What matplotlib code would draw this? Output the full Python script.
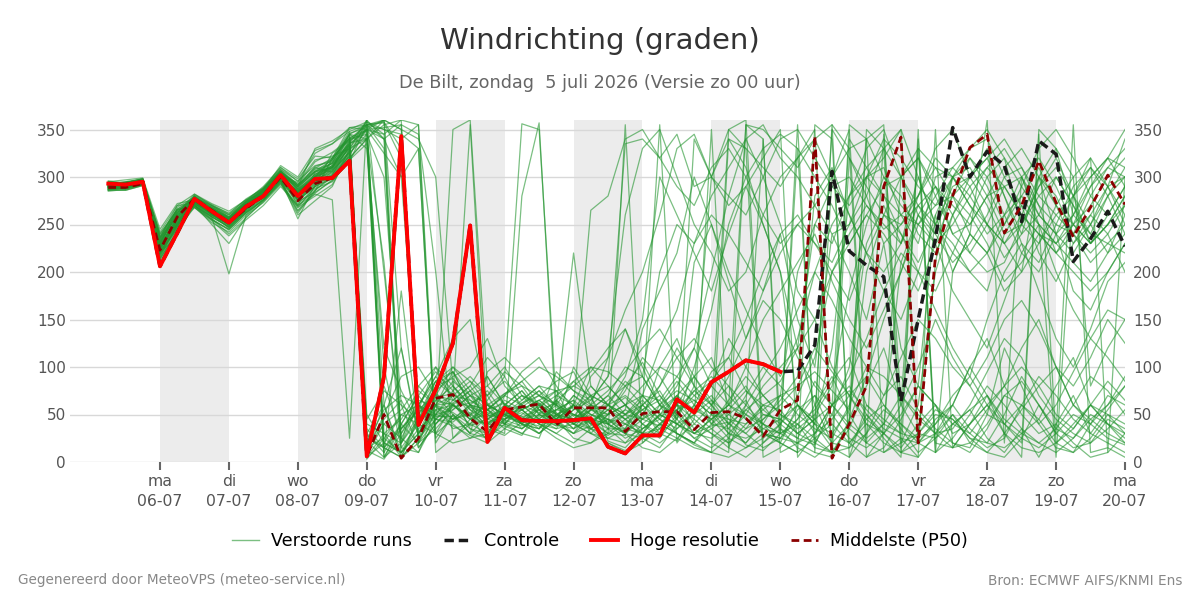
import matplotlib
matplotlib.use("Agg")
import matplotlib.pyplot as plt
from matplotlib.lines import Line2D
import pandas as pd

# ---------------- data ----------------
times = pd.date_range("2026-07-05 06:00", periods=60, freq="6h")

tick_days = pd.date_range("2026-07-06", "2026-07-20", freq="D")
day_names = ["ma", "di", "wo", "do", "vr", "za", "zo",
             "ma", "di", "wo", "do", "vr", "za", "zo", "ma"]
tick_labels = [f"{n}\n{d.strftime('%d-%m')}" for n, d in zip(day_names, tick_days)]

shade_starts = ["2026-07-06", "2026-07-08", "2026-07-10", "2026-07-12",
                "2026-07-14", "2026-07-16", "2026-07-18"]

hoge_resolutie = [293, 292, 295, 206, 241, 277, 264, 252, 269, 280,
                  302, 280, 298, 299, 317, 6, 90, 343, 39, 76,
                  125, 249, 21, 57, 44, 43, 43, 44, 46, 16,
                  9, 28, 28, 66, 52, 84, 95, 107, 103, 95]

controle = [293, 292, 295, 206, 241, 277, 264, 252, 269, 280,
            302, 280, 298, 299, 317, 6, 90, 343, 39, 76,
            125, 249, 21, 57, 44, 43, 43, 44, 46, 16,
            9, 28, 28, 66, 52, 84, 95, 107, 103, 95,
            96, 123, 306, 222, 207, 195, 64, 150, 235, 352,
            300, 327, 312, 253, 338, 324, 211, 235, 264, 227]

middelste = [289, 289, 293, 223, 258, 277, 265, 252, 267, 280,
             300, 275, 293, 299, 317, 6, 50, 4, 25, 67,
             71, 46, 32, 55, 58, 61, 39, 57, 57, 57,
             32, 51, 53, 53, 34, 52, 53, 46, 27, 55,
             65, 343, 4, 40, 80, 290, 342, 20, 216, 280,
             331, 345, 241, 270, 317, 273, 237, 268, 302, 271]

m01 = [294, 290, 297, 232, 260, 272, 258, 248, 265, 282,
       304, 288, 300, 310, 335, 350, 20, 10, 30, 60,
       85, 70, 45, 60, 55, 40, 65, 50, 45, 35,
       20, 40, 55, 70, 40, 60, 80, 45, 30, 25,
       55, 70, 30, 20, 45, 60, 40, 25, 210, 300,
       320, 290, 250, 280, 310, 270, 230, 250, 290, 300]
m02 = [288, 289, 293, 218, 248, 278, 266, 255, 270, 278,
       298, 276, 290, 298, 318, 30, 60, 5, 25, 68,
       72, 55, 38, 52, 47, 55, 62, 48, 70, 22,
       15, 35, 48, 55, 30, 38, 42, 18, 12, 30,
       40, 15, 10, 35, 80, 120, 60, 30, 25, 40,
       55, 70, 45, 30, 20, 35, 60, 90, 75, 50]
m03 = [296, 293, 298, 240, 265, 270, 256, 244, 262, 276,
       296, 265, 285, 320, 340, 355, 358, 330, 20, 45,
       65, 80, 55, 40, 62, 70, 85, 95, 60, 50,
       75, 110, 90, 60, 55, 80, 130, 100, 70, 85,
       120, 250, 290, 300, 270, 245, 260, 230, 300, 310,
       290, 250, 215, 240, 300, 330, 260, 240, 280, 310]
m04 = [285, 287, 292, 226, 252, 280, 268, 258, 272, 285,
       306, 292, 310, 305, 328, 8, 40, 25, 60, 90,
       70, 35, 30, 60, 75, 50, 40, 55, 80, 60,
       45, 25, 15, 40, 50, 35, 20, 40, 60, 55,
       30, 45, 350, 320, 280, 230, 250, 270, 240, 300,
       330, 340, 300, 270, 250, 230, 260, 300, 320, 290]
m05 = [291, 294, 296, 210, 240, 276, 260, 250, 266, 281,
       302, 270, 305, 315, 345, 340, 100, 15, 10, 55,
       60, 45, 50, 35, 28, 58, 45, 30, 38, 60,
       70, 55, 30, 22, 60, 95, 110, 75, 55, 40,
       25, 18, 60, 80, 50, 30, 15, 40, 60, 20,
       10, 35, 70, 60, 45, 80, 110, 60, 40, 25]
m06 = [289, 288, 294, 236, 258, 271, 250, 230, 258, 274,
       294, 260, 275, 290, 330, 360, 340, 355, 40, 80,
       95, 60, 35, 50, 65, 80, 58, 42, 90, 110,
       260, 330, 350, 300, 250, 220, 180, 200, 260, 300,
       320, 340, 300, 260, 220, 180, 150, 200, 260, 300,
       310, 280, 240, 250, 290, 320, 280, 230, 250, 270]
m07 = [293, 291, 295, 222, 256, 274, 265, 254, 270, 286,
       308, 296, 312, 316, 342, 12, 3, 30, 55, 72,
       60, 48, 22, 45, 52, 40, 35, 60, 42, 30,
       28, 60, 75, 45, 25, 15, 30, 50, 40, 20,
       60, 40, 15, 5, 30, 70, 90, 55, 35, 20,
       15, 50, 120, 80, 40, 60, 95, 130, 110, 85]
m08 = [287, 292, 294, 228, 250, 268, 254, 238, 255, 270,
       290, 270, 282, 276, 25, 360, 200, 35, 55, 48,
       48, 30, 25, 70, 95, 110, 80, 55, 65, 90,
       140, 100, 60, 45, 80, 300, 340, 310, 250, 200,
       120, 60, 20, 40, 300, 310, 260, 280, 330, 350,
       300, 320, 280, 230, 210, 250, 290, 310, 280, 240]
m09 = [292, 295, 297, 215, 246, 279, 269, 260, 274, 288,
       306, 287, 298, 304, 322, 45, 75, 60, 15, 40,
       58, 62, 70, 40, 35, 48, 55, 65, 50, 42,
       55, 45, 38, 60, 90, 65, 50, 35, 45, 60,
       80, 120, 95, 70, 90, 150, 200, 260, 240, 210,
       230, 260, 300, 310, 270, 220, 240, 280, 310, 330]
m10 = [295, 297, 299, 245, 272, 276, 262, 246, 266, 279,
       298, 256, 292, 325, 338, 355, 330, 20, 50, 85,
       100, 75, 40, 55, 70, 62, 48, 70, 58, 35,
       35, 70, 120, 160, 230, 280, 310, 340, 355, 320,
       300, 270, 240, 250, 280, 330, 350, 20, 30, 60,
       100, 130, 80, 50, 30, 40, 70, 30, 20, 10]
m11 = [290, 290, 293, 220, 238, 273, 263, 252, 271, 284,
       301, 283, 296, 300, 315, 5, 30, 45, 75, 60,
       52, 40, 55, 62, 45, 30, 50, 58, 40, 55,
       68, 50, 35, 55, 65, 50, 30, 25, 35, 45,
       30, 20, 50, 100, 230, 270, 230, 300, 250, 280,
       260, 300, 320, 250, 230, 260, 240, 210, 230, 250]
m12 = [286, 286, 291, 230, 262, 282, 272, 264, 276, 283,
       302, 294, 318, 322, 330, 340, 360, 120, 30, 60,
       45, 52, 35, 28, 42, 60, 75, 40, 30, 20,
       12, 25, 40, 30, 18, 10, 25, 55, 40, 30,
       20, 10, 5, 45, 90, 60, 35, 10, 25, 50,
       30, 15, 25, 60, 40, 15, 10, 40, 70, 60]
m13 = [294, 292, 296, 224, 254, 270, 258, 198, 260, 277,
       297, 275, 290, 306, 332, 50, 20, 10, 45, 80,
       88, 65, 52, 45, 58, 70, 52, 35, 48, 65,
       80, 105, 70, 45, 100, 160, 250, 300, 330, 345,
       330, 300, 270, 230, 260, 290, 300, 320, 280, 240,
       250, 280, 290, 260, 240, 230, 250, 270, 300, 320]
m14 = [291, 293, 295, 234, 264, 277, 261, 249, 269, 282,
       303, 279, 301, 312, 333, 35, 15, 40, 70, 95,
       75, 50, 60, 72, 80, 55, 40, 30, 55, 70,
       50, 30, 20, 35, 55, 70, 45, 30, 15, 25,
       45, 70, 50, 25, 15, 30, 60, 100, 150, 110,
       80, 50, 40, 60, 90, 70, 45, 30, 55, 80]
m15 = [288, 291, 294, 238, 266, 268, 252, 242, 260, 273,
       292, 268, 280, 292, 325, 345, 15, 5, 50, 75,
       90, 100, 130, 80, 60, 45, 38, 50, 42, 55,
       45, 60, 80, 120, 90, 60, 40, 55, 70, 50,
       35, 50, 80, 180, 250, 300, 280, 240, 220, 260,
       290, 310, 330, 300, 260, 240, 220, 250, 280, 300]
m16 = [290, 292, 296, 212, 244, 274, 267, 256, 273, 287,
       305, 290, 308, 314, 336, 358, 350, 345, 330, 25,
       50, 30, 48, 55, 40, 35, 50, 60, 35, 28,
       40, 55, 70, 50, 30, 45, 60, 80, 50, 45,
       60, 30, 45, 70, 40, 20, 10, 30, 55, 45,
       25, 20, 50, 90, 60, 30, 15, 20, 45, 35]
m17 = [293, 294, 298, 226, 258, 280, 264, 254, 268, 281,
       300, 282, 300, 308, 326, 20, 80, 30, 65, 58,
       45, 60, 75, 50, 40, 58, 70, 85, 68, 40,
       30, 45, 55, 80, 120, 200, 280, 340, 300, 250,
       180, 150, 200, 240, 270, 250, 230, 280, 320, 300,
       270, 240, 260, 300, 320, 290, 250, 230, 260, 290]
m18 = [286, 289, 292, 229, 253, 271, 259, 247, 264, 278,
       296, 272, 288, 295, 320, 340, 210, 15, 40, 65,
       60, 45, 40, 38, 30, 45, 60, 50, 40, 60,
       85, 70, 50, 40, 25, 35, 50, 65, 30, 20,
       10, 25, 40, 20, 5, 15, 45, 80, 60, 30,
       40, 60, 80, 120, 150, 100, 60, 40, 60, 90]
m19 = [292, 290, 297, 219, 249, 278, 270, 258, 275, 290,
       310, 298, 322, 320, 348, 10, 50, 90, 100, 70,
       65, 58, 42, 48, 62, 75, 60, 45, 55, 50,
       60, 80, 100, 90, 70, 85, 110, 150, 200, 240,
       260, 230, 210, 250, 300, 280, 240, 210, 250, 290,
       300, 270, 230, 200, 230, 270, 300, 320, 290, 250]
m20 = [289, 292, 295, 232, 261, 273, 260, 251, 270, 279,
       301, 280, 295, 302, 322, 40, 30, 20, 80, 60,
       35, 40, 65, 90, 356, 350, 60, 40, 35, 45,
       30, 25, 40, 60, 45, 30, 20, 35, 60, 70,
       50, 35, 25, 60, 100, 90, 70, 45, 30, 35,
       60, 95, 130, 110, 70, 45, 30, 20, 35, 55]
m21 = [295, 294, 296, 221, 251, 275, 263, 253, 267, 282,
       299, 285, 298, 310, 330, 355, 60, 10, 35, 50,
       55, 70, 62, 48, 40, 55, 42, 60, 265, 280,
       340, 350, 320, 290, 270, 310, 330, 300, 260, 230,
       250, 270, 300, 330, 340, 300, 270, 250, 280, 310,
       330, 350, 320, 290, 260, 240, 260, 290, 310, 300]
m22 = [291, 289, 294, 227, 257, 276, 266, 257, 273, 285,
       303, 284, 302, 315, 340, 15, 25, 50, 60, 45,
       38, 28, 20, 35, 50, 62, 45, 25, 20, 35,
       50, 65, 45, 30, 20, 40, 65, 90, 70, 50,
       40, 55, 85, 110, 60, 40, 30, 25, 40, 70,
       90, 60, 40, 25, 15, 30, 50, 40, 25, 18]
m23 = [287, 290, 293, 235, 263, 269, 255, 245, 263, 276,
       295, 264, 283, 297, 328, 350, 345, 360, 355, 30,
       60, 48, 90, 60, 45, 50, 65, 40, 30, 50,
       80, 60, 40, 55, 75, 60, 35, 20, 45, 65,
       90, 280, 310, 260, 220, 200, 230, 270, 290, 260,
       220, 200, 210, 250, 290, 310, 280, 250, 220, 240]
m24 = [293, 295, 298, 217, 247, 281, 271, 261, 277, 288,
       307, 290, 305, 310, 338, 25, 15, 35, 55, 100,
       80, 60, 50, 65, 55, 40, 30, 45, 60, 75,
       95, 120, 140, 110, 80, 60, 90, 130, 170, 150,
       110, 80, 60, 90, 130, 180, 220, 200, 160, 120,
       90, 150, 200, 230, 180, 130, 100, 140, 190, 210]
m25 = [290, 288, 295, 223, 255, 272, 262, 250, 266, 283,
       300, 277, 293, 300, 318, 335, 5, 20, 45, 70,
       50, 35, 25, 40, 55, 65, 50, 35, 45, 40,
       25, 35, 50, 40, 60, 45, 25, 15, 25, 40,
       60, 45, 20, 15, 30, 55, 40, 20, 10, 25,
       50, 80, 60, 35, 20, 10, 25, 50, 40, 30]
m26 = [288, 291, 296, 231, 259, 277, 265, 255, 271, 280,
       299, 286, 297, 307, 324, 350, 325, 300, 60, 30,
       45, 60, 55, 72, 85, 60, 45, 70, 55, 45,
       40, 30, 35, 60, 210, 250, 200, 160, 120, 90,
       130, 200, 250, 280, 310, 330, 300, 260, 230, 250,
       280, 310, 290, 260, 240, 220, 250, 290, 320, 350]
m27 = [292, 293, 297, 237, 265, 274, 260, 250, 267, 279,
       297, 262, 286, 302, 334, 18, 45, 65, 30, 50,
       70, 85, 60, 42, 35, 50, 38, 55, 70, 80,
       60, 40, 25, 50, 75, 90, 70, 50, 80, 100,
       120, 150, 100, 70, 45, 30, 50, 80, 60, 40,
       30, 55, 80, 100, 80, 50, 35, 60, 85, 65]
m28 = [289, 287, 292, 225, 251, 270, 256, 240, 257, 275,
       296, 274, 284, 296, 316, 355, 360, 350, 340, 300,
       80, 55, 45, 58, 40, 30, 45, 60, 45, 30,
       45, 55, 65, 40, 30, 25, 40, 70, 100, 80,
       60, 40, 30, 55, 200, 260, 300, 330, 310, 280,
       240, 220, 250, 290, 330, 350, 320, 280, 260, 290]
m29 = [294, 291, 296, 214, 243, 276, 268, 257, 274, 286,
       304, 289, 306, 318, 344, 30, 10, 40, 20, 60,
       62, 38, 45, 55, 48, 35, 55, 65, 30, 25,
       20, 30, 60, 85, 60, 40, 55, 75, 60, 35,
       25, 60, 90, 50, 20, 10, 20, 60, 200, 260,
       300, 330, 280, 240, 260, 300, 270, 230, 250, 280]
m30 = [290, 294, 297, 233, 261, 279, 267, 256, 272, 287,
       312, 300, 328, 335, 352, 355, 340, 5, 45, 85,
       95, 70, 55, 45, 60, 52, 48, 40, 55, 60,
       45, 35, 45, 70, 55, 45, 60, 50, 35, 30,
       45, 85, 60, 35, 20, 40, 70, 50, 30, 15,
       20, 40, 70, 85, 60, 35, 25, 45, 60, 80]
m31 = [291, 292, 295, 228, 268, 279, 266, 255, 270, 284,
       303, 290, 330, 338, 350, 358, 345, 20, 60, 85,
       70, 355, 40, 55, 35, 50, 45, 60, 40, 25,
       35, 60, 355, 20, 45, 350, 15, 60, 340, 30,
       355, 10, 300, 350, 20, 345, 60, 330, 10, 200,
       240, 360, 20, 300, 250, 5, 280, 320, 10, 300]
m32 = [289, 290, 294, 242, 270, 272, 262, 250, 268, 282,
       300, 285, 300, 320, 352, 350, 30, 5, 20, 65,
       80, 60, 55, 70, 85, 100, 90, 75, 60, 110,
       160, 200, 260, 330, 345, 300, 270, 290, 320, 350,
       5, 30, 60, 340, 310, 280, 260, 250, 270, 300,
       280, 250, 230, 260, 300, 280, 240, 220, 240, 270]
m33 = [292, 293, 296, 216, 250, 277, 264, 252, 268, 283,
       305, 280, 296, 308, 330, 22, 5, 35, 60, 50,
       45, 50, 38, 30, 280, 357, 40, 35, 60, 55,
       40, 30, 50, 60, 35, 20, 10, 355, 340, 10,
       20, 40, 355, 5, 60, 45, 30, 340, 20, 15,
       40, 70, 30, 5, 345, 20, 35, 60, 40, 20]
m34 = [290, 289, 292, 230, 255, 270, 258, 247, 263, 276,
       294, 268, 290, 318, 346, 352, 360, 350, 15, 40,
       62, 75, 90, 60, 40, 35, 65, 80, 95, 120,
       140, 90, 60, 50, 70, 55, 30, 20, 40, 70,
       200, 250, 230, 280, 300, 320, 350, 300, 250, 220,
       200, 180, 240, 270, 220, 190, 230, 260, 240, 200]
m35 = [287, 286, 291, 222, 245, 268, 255, 245, 262, 275,
       293, 270, 286, 300, 320, 340, 10, 180, 30, 70,
       100, 85, 70, 95, 80, 70, 60, 220, 80, 60,
       50, 70, 65, 90, 120, 80, 60, 100, 150, 180,
       210, 240, 190, 150, 120, 160, 200, 250, 230, 180,
       150, 120, 170, 220, 250, 200, 160, 130, 160, 150]
m36 = [293, 294, 298, 236, 270, 282, 270, 262, 276, 288,
       310, 295, 325, 335, 348, 355, 357, 320, 60, 90,
       130, 150, 60, 50, 45, 60, 40, 30, 45, 50,
       60, 70, 50, 40, 30, 45, 60, 355, 350, 330,
       310, 340, 355, 330, 5, 30, 300, 320, 290, 270,
       250, 280, 310, 330, 300, 270, 250, 230, 250, 280]
m37 = [291, 291, 295, 226, 257, 275, 263, 252, 268, 281,
       300, 278, 294, 303, 326, 3, 25, 10, 30, 55,
       40, 25, 30, 45, 55, 40, 30, 20, 35, 45,
       30, 15, 10, 25, 40, 30, 15, 5, 20, 35,
       15, 5, 20, 355, 340, 10, 25, 5, 30, 50,
       20, 10, 5, 25, 60, 30, 355, 10, 15, 5]
m38 = [288, 290, 294, 231, 260, 276, 266, 256, 272, 283,
       302, 284, 301, 312, 334, 350, 340, 300, 330, 20,
       50, 30, 95, 110, 90, 70, 60, 85, 100, 95,
       80, 90, 200, 250, 230, 260, 240, 210, 180, 220,
       250, 230, 200, 170, 220, 260, 240, 200, 180, 220,
       260, 230, 190, 210, 240, 220, 200, 180, 200, 230]
m39 = [294, 293, 296, 220, 252, 273, 262, 250, 266, 282,
       301, 283, 299, 309, 331, 15, 40, 55, 80, 100,
       65, 80, 110, 90, 55, 65, 50, 45, 60, 40,
       30, 50, 80, 110, 130, 100, 80, 60, 40, 30,
       330, 20, 10, 40, 350, 330, 10, 20, 45, 60,
       100, 70, 40, 20, 350, 330, 300, 80, 120, 150]
m40 = [290, 292, 296, 224, 254, 275, 265, 254, 270, 282,
       302, 284, 300, 311, 336, 340, 355, 360, 20, 35,
       55, 70, 80, 100, 70, 50, 95, 75, 65, 90,
       335, 340, 320, 345, 290, 300, 280, 260, 300, 340,
       350, 320, 290, 270, 300, 340, 320, 290, 270, 280,
       300, 320, 340, 310, 280, 260, 280, 310, 290, 260]
m41 = [292, 291, 296, 228, 256, 274, 262, 253, 270, 284,
       304, 288, 306, 314, 335, 5, 20, 50, 40, 30,
       20, 25, 40, 50, 42, 38, 25, 15, 20, 30,
       355, 20, 35, 25, 15, 10, 340, 330, 5, 15,
       40, 25, 10, 15, 50, 25, 5, 350, 10, 40,
       55, 25, 10, 35, 5, 40, 20, 5, 10, 30]
m42 = [286, 288, 293, 234, 263, 278, 268, 258, 274, 287,
       306, 290, 311, 318, 345, 330, 120, 75, 40, 60,
       95, 60, 45, 40, 30, 25, 70, 60, 50, 40,
       55, 140, 180, 220, 300, 250, 190, 130, 180, 240,
       150, 100, 240, 200, 150, 230, 120, 80, 260, 200,
       240, 220, 180, 200, 300, 240, 180, 160, 200, 230]
m43 = [289, 290, 293, 225, 250, 272, 260, 250, 266, 280,
       299, 276, 292, 301, 322, 360, 5, 40, 70, 45,
       42, 58, 50, 44, 38, 46, 55, 50, 45, 40,
       50, 60, 45, 35, 50, 65, 40, 30, 50, 45,
       30, 45, 60, 75, 55, 35, 25, 20, 40, 60,
       35, 20, 15, 30, 45, 20, 10, 25, 50, 40]
m44 = [293, 294, 297, 240, 266, 277, 263, 249, 268, 285,
       306, 291, 309, 320, 341, 350, 360, 25, 10, 45,
       350, 360, 80, 60, 75, 55, 40, 100, 70, 60,
       90, 150, 300, 260, 220, 180, 240, 290, 250, 200,
       60, 40, 120, 280, 330, 350, 300, 270, 250, 230,
       200, 220, 260, 280, 250, 230, 210, 190, 220, 260]
m45 = [287, 289, 294, 219, 249, 275, 266, 256, 272, 286,
       305, 286, 303, 310, 333, 20, 55, 70, 60, 40,
       60, 45, 55, 70, 60, 45, 35, 40, 55, 70,
       100, 90, 60, 30, 20, 50, 350, 360, 20, 40,
       70, 110, 200, 230, 260, 240, 210, 180, 230, 280,
       320, 300, 260, 220, 200, 240, 280, 300, 320, 310]
m46 = [295, 292, 297, 230, 262, 280, 270, 260, 275, 289,
       308, 292, 306, 310, 345, 355, 350, 340, 355, 10,
       25, 45, 60, 50, 40, 30, 45, 60, 35, 20,
       10, 20, 40, 30, 20, 10, 5, 15, 30, 20,
       10, 355, 340, 20, 40, 30, 10, 5, 350, 15,
       40, 60, 30, 15, 10, 20, 40, 60, 50, 30]
m47 = [290, 288, 292, 214, 242, 270, 258, 248, 264, 278,
       297, 276, 290, 300, 318, 28, 15, 5, 25, 50,
       75, 90, 70, 85, 65, 80, 75, 60, 100, 80,
       60, 45, 100, 130, 80, 40, 35, 60, 90, 120,
       160, 200, 170, 130, 100, 70, 110, 150, 130, 100,
       80, 110, 150, 170, 140, 100, 80, 110, 150, 125]
m48 = [292, 294, 298, 236, 266, 278, 264, 254, 270, 286,
       305, 292, 316, 326, 340, 345, 300, 60, 45, 60,
       70, 65, 55, 40, 60, 75, 50, 45, 35, 50,
       60, 40, 30, 45, 340, 300, 350, 330, 310, 290,
       320, 350, 5, 320, 290, 260, 250, 280, 310, 300,
       270, 250, 230, 250, 280, 300, 270, 240, 230, 220]
m49 = [289, 291, 295, 227, 258, 277, 267, 257, 271, 283,
       300, 282, 296, 306, 326, 12, 60, 120, 25, 45,
       60, 75, 60, 50, 55, 65, 75, 80, 70, 60,
       50, 45, 60, 75, 65, 50, 45, 40, 55, 70,
       80, 95, 75, 55, 340, 355, 20, 30, 50, 45,
       25, 10, 30, 55, 80, 100, 60, 45, 30, 20]
m50 = [291, 292, 296, 221, 248, 273, 261, 252, 269, 283,
       303, 287, 303, 312, 338, 350, 352, 355, 345, 200,
       25, 40, 30, 55, 70, 60, 50, 40, 50, 45,
       35, 30, 50, 70, 90, 110, 60, 45, 30, 25,
       20, 30, 60, 40, 25, 40, 210, 260, 290, 240,
       220, 250, 290, 300, 270, 250, 240, 260, 290, 340]

verstoorde_runs = [m01, m02, m03, m04, m05, m06, m07, m08, m09, m10,
                   m11, m12, m13, m14, m15, m16, m17, m18, m19, m20,
                   m21, m22, m23, m24, m25, m26, m27, m28, m29, m30,
                   m31, m32, m33, m34, m35, m36, m37, m38, m39, m40,
                   m41, m42, m43, m44, m45, m46, m47, m48, m49, m50]

# ---------------- figure ----------------
fig = plt.figure(figsize=(12, 6), dpi=100)
ax = fig.add_axes([70 / 1200, 1 - 462 / 600, (1125 - 70) / 1200, (462 - 120) / 600])

for s in shade_starts:
    d0 = pd.Timestamp(s)
    ax.axvspan(d0, d0 + pd.Timedelta(days=1), color="#ececec", zorder=0, lw=0)

green = "#23952f"
for m in verstoorde_runs:
    ax.plot(times, m, color=green, lw=0.9, alpha=0.6, zorder=2)

dash_ctrl = (0, (2.7, 1.4))
dash_p50 = (0, (2.8, 1.6))
ax.plot(times, controle, color="#1a1a1a", lw=2.5, ls=dash_ctrl, zorder=4)
ax.plot(times, middelste, color="#8b0000", lw=2.0, ls=dash_p50, zorder=5)
ax.plot(times[:len(hoge_resolutie)], hoge_resolutie, color="#ff0000", lw=2.8, zorder=6)

ax.set_ylim(0, 360)
ax.set_xlim(pd.Timestamp("2026-07-04 16:40"), pd.Timestamp("2026-07-20 00:00"))
ax.set_yticks(range(0, 351, 50))
ax.yaxis.grid(True, color="#d8d8d8", lw=1, zorder=1)
ax.set_axisbelow(True)
for sp in ax.spines.values():
    sp.set_visible(False)

ax.set_xticks(tick_days)
ax.set_xticklabels(tick_labels)
for lbl in ax.get_xticklabels():
    lbl.set_linespacing(1.4)
ax.tick_params(axis="x", length=6, width=1.5, color="#666666", labelsize=11.3,
               labelcolor="#555555", pad=3)
ax.tick_params(axis="y", length=0, labelsize=11, labelcolor="#555555", pad=3)

ax2 = ax.twinx()
ax2.set_ylim(0, 360)
ax2.set_yticks(range(0, 351, 50))
for sp in ax2.spines.values():
    sp.set_visible(False)
ax2.tick_params(axis="y", length=0, labelsize=11, labelcolor="#555555", pad=6)

fig.text(0.5, 1 - 41 / 600, "Windrichting (graden)", ha="center", va="center",
         fontsize=21, color="#333333")
fig.text(0.5, 1 - 83 / 600, "De Bilt, zondag  5 juli 2026 (Versie zo 00 uur)",
         ha="center", va="center", fontsize=12.7, color="#666666")
fig.text(18 / 1200, 1 - 580 / 600, "Gegenereerd door MeteoVPS (meteo-service.nl)",
         ha="left", va="center", fontsize=9.8, color="#888888")
fig.text(1182 / 1200, 1 - 580 / 600, "Bron: ECMWF AIFS/KNMI Ens",
         ha="right", va="center", fontsize=9.8, color="#888888")

handles = [
    Line2D([], [], color=green, lw=1, alpha=0.6),
    Line2D([], [], color="#1a1a1a", lw=2.5, ls=dash_ctrl),
    Line2D([], [], color="#ff0000", lw=2.8),
    Line2D([], [], color="#8b0000", lw=2.0, ls=dash_p50),
]
labels = ["Verstoorde runs", "Controle", "Hoge resolutie", "Middelste (P50)"]
fig.legend(handles, labels, loc="center", bbox_to_anchor=(0.5, 1 - 541 / 600),
           ncol=4, frameon=False, fontsize=12.7, handlelength=1.55, columnspacing=1.8,
           handletextpad=0.7)

fig.savefig("out.png", dpi=100)
